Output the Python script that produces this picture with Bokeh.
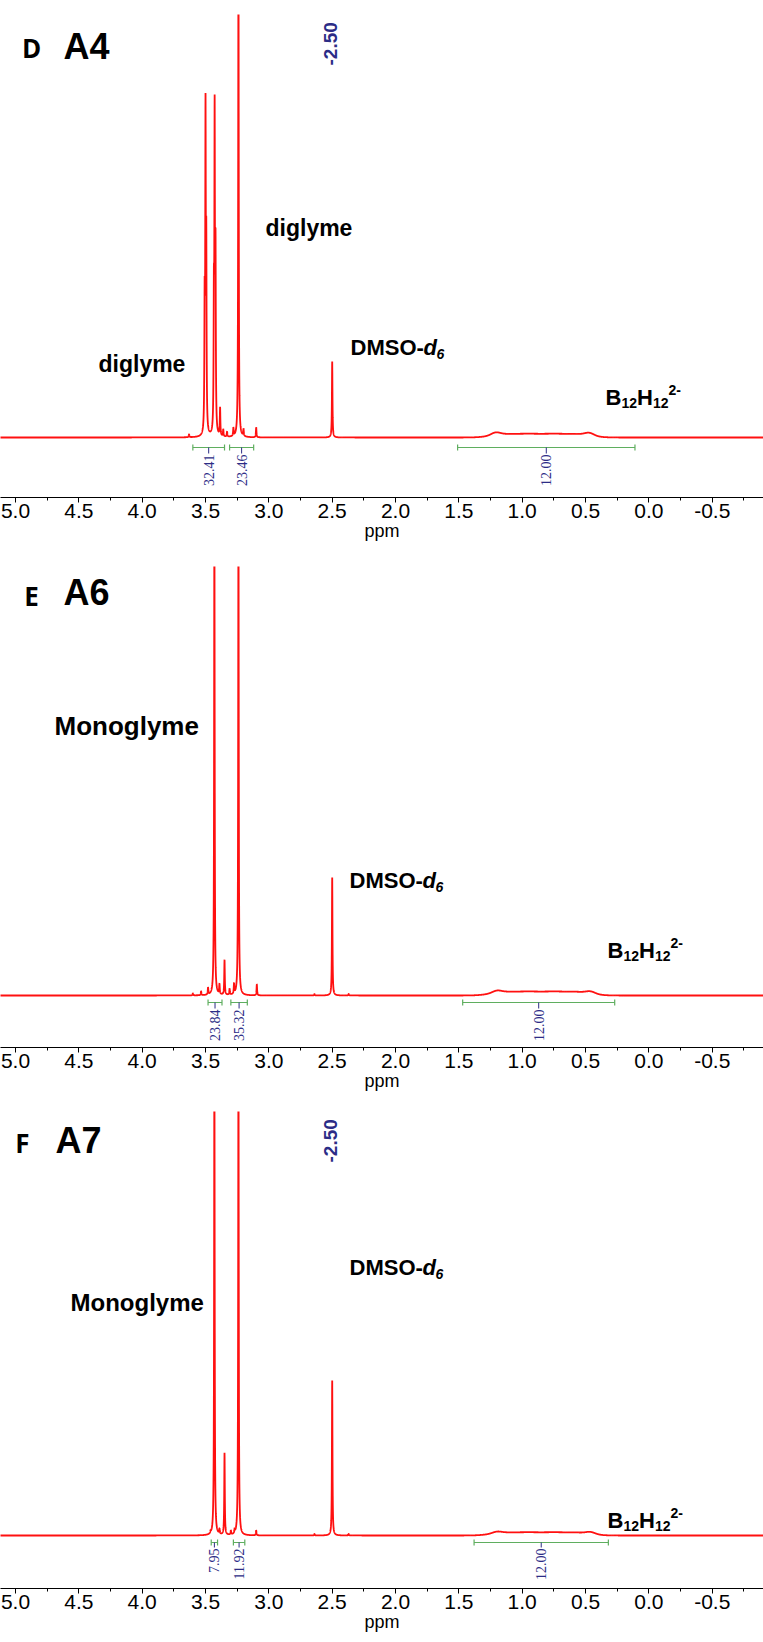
import numpy as np
from bokeh.plotting import figure
from bokeh.models import Range1d, FixedTicker, Label, ColumnDataSource, PrintfTickFormatter
from bokeh.layouts import column
from bokeh.embed import file_html
from bokeh.resources import INLINE
from bokeh.core.properties import value

# ---------------- data ----------------
tick_ppm = [5.0, 4.5, 4.0, 3.5, 3.0, 2.5, 2.0, 1.5, 1.0, 0.5, 0.0, -0.5]
minor_ppm = [4.75, 4.25, 3.75, 3.25, 2.75, 2.25, 1.75, 1.25, 0.75, 0.25, -0.25, -0.75]

# Panel D (A4, diglyme)
d_sharp_ppm = [3.630, 3.507, 3.500, 3.494, 3.434, 3.428, 3.421, 3.385, 3.360, 3.330, 3.280, 3.240, 3.200, 3.100, 2.500]
d_sharp_h = [3, 120, 305, 170, 120, 305, 170, 28, 7, 5, 8, 500, 7, 10, 76]
d_broad_ppm = [1.21, 1.15, 0.95, 0.75, 0.55, 0.47]
d_broad_h = [2.5, 3.0, 3.0, 3.0, 3.0, 2.5]
d_broad_w = [0.035, 0.10, 0.10, 0.10, 0.10, 0.035]
d_int_start = [3.60, 3.31, 1.51]
d_int_end = [3.35, 3.12, 0.11]
d_int_text = ["32.41", "23.46", "12.00"]

# Panel E (A6, monoglyme)
e_sharp_ppm = [3.600, 3.535, 3.480, 3.430, 3.390, 3.350, 3.310, 3.275, 3.240, 3.095, 2.640, 2.500, 2.370]
e_sharp_h = [2, 4, 7, 500, 10, 35, 6, 10, 500, 11, 1.5, 118, 1.5]
e_broad_ppm = [1.20, 1.15, 0.95, 0.75, 0.55, 0.46]
e_broad_h = [2.0, 3.2, 3.2, 3.2, 3.2, 2.0]
e_broad_w = [0.035, 0.10, 0.10, 0.10, 0.10, 0.035]
e_int_start = [3.48, 3.30, 1.47]
e_int_end = [3.37, 3.17, 0.27]
e_int_text = ["23.84", "35.32", "12.00"]

# Panel F (A7, monoglyme)
f_sharp_ppm = [3.460, 3.430, 3.390, 3.350, 3.300, 3.270, 3.240, 3.100, 2.640, 2.500, 2.370]
f_sharp_h = [2, 500, 5, 82, 4, 4, 500, 5, 1.5, 155, 1.5]
f_broad_ppm = [1.20, 1.15, 0.95, 0.75, 0.55, 0.46]
f_broad_h = [1.5, 2.6, 2.6, 2.6, 2.6, 1.8]
f_broad_w = [0.035, 0.10, 0.10, 0.10, 0.10, 0.035]
f_int_start = [3.455, 3.28, 1.38]
f_int_end = [3.405, 3.19, 0.32]
f_int_text = ["7.95", "11.92", "12.00"]

# ---------------- layout constants ----------------
W = 763
PX_PER_PPM = 126.68
X_LEFT = 5.0 + 15 / PX_PER_PPM
X_RIGHT = X_LEFT - W / PX_PER_PPM
LINE_HW = 0.0025

RED = "#ff1010"
GREEN = "#5fae5f"
NAVY = "#2c2c86"
SANS = "Liberation Sans"


def xd(px):
    return X_LEFT - px / PX_PER_PPM


def spectrum(sharp_ppm, sharp_h, broad_ppm, broad_h, broad_w):
    grid = np.union1d(np.arange(X_RIGHT - 0.05, X_LEFT + 0.05, 0.0008), np.array(sharp_ppm))
    y = np.zeros_like(grid)
    for c, h in zip(sharp_ppm, sharp_h):
        y += h / (1.0 + ((grid - c) / LINE_HW) ** 2)
    for c, h, w in zip(broad_ppm, broad_h, broad_w):
        y += h * np.exp(-0.5 * ((grid - c) / w) ** 2)
    return grid, y


def label(p, x, y, text, size, style="bold", font=SANS, align="left", color="black", angle=0.0, baseline="middle"):
    p.add_layout(Label(x=x, y=y, text=text, text_font=font, text_font_size=f"{size}px",
                       text_font_style=style, text_align=align, text_baseline=baseline,
                       text_color=color, angle=angle))


def yd(cfg, py):
    return cfg["B"] - py


def make_panel(cfg, sharp_ppm, sharp_h, broad_ppm, broad_h, broad_w, i_start, i_end, i_text):
    H, T, A, B = cfg["H"], cfg["T"], cfg["A"], cfg["B"]
    p = figure(width=W, height=H, x_range=Range1d(X_LEFT, X_RIGHT),
               y_range=Range1d(-(A - B), B - T), output_backend="svg",
               toolbar_location=None, y_axis_location=None,
               min_border_left=0, min_border_right=0, min_border_top=T,
               min_border_bottom=H - A, outline_line_color=None,
               background_fill_color="white", border_fill_color="white")
    p.xgrid.visible = False
    p.ygrid.visible = False

    ax = p.xaxis[0]
    ax.ticker = FixedTicker(ticks=tick_ppm, minor_ticks=minor_ppm)
    ax.formatter = PrintfTickFormatter(format="%.1f")
    ax.major_label_text_font = SANS
    ax.major_label_text_font_size = "21px"
    ax.major_label_text_color = "black"
    ax.major_tick_out = 5
    ax.major_tick_in = 0
    ax.minor_tick_out = 3
    ax.minor_tick_in = 0
    ax.major_label_standoff = 1
    ax.axis_label = "ppm"
    ax.axis_label_text_font = SANS
    ax.axis_label_text_font_size = "18px"
    ax.axis_label_text_font_style = "normal"
    ax.axis_label_text_color = "black"
    ax.axis_label_standoff = 0
    ax.axis_line_color = "black"
    ax.major_tick_line_color = "black"
    ax.minor_tick_line_color = "black"

    gx, gy = spectrum(sharp_ppm, sharp_h, broad_ppm, broad_h, broad_w)
    p.line(gx, gy, line_color=RED, line_width=1.8)

    # integrals
    bar_y = -cfg["bar"]
    lab_y = -cfg["lab"]
    cx = [(s + e) / 2 for s, e in zip(i_start, i_end)]
    src = ColumnDataSource(dict(s=i_start, e=i_end, c=cx, t=i_text))
    p.segment(x0="s", y0=bar_y, x1="e", y1=bar_y, source=src, line_color=GREEN, line_width=1.2)
    p.segment(x0="s", y0=bar_y - 3, x1="s", y1=bar_y + 3, source=src, line_color=GREEN, line_width=1.2)
    p.segment(x0="e", y0=bar_y - 3, x1="e", y1=bar_y + 3, source=src, line_color=GREEN, line_width=1.2)
    p.segment(x0="c", y0=bar_y, x1="c", y1=lab_y + 1, source=src, line_color=NAVY, line_width=1)
    p.text(x="c", y=lab_y, text="t", source=src, angle=np.pi / 2, text_align="right",
           text_baseline="middle", text_font=value("Liberation Serif"),
           text_font_size="14px", text_color=NAVY)
    return p


def dmso(p, cfg, xpx, ypx):
    label(p, xd(xpx), yd(cfg, ypx), "DMSO-", 22)
    label(p, xd(xpx + 73), yd(cfg, ypx), "d", 22, style="bold italic")
    label(p, xd(xpx + 86), yd(cfg, ypx + 6), "6", 14, style="bold italic")


def b12(p, cfg, xpx, ypx):
    label(p, xd(xpx), yd(cfg, ypx), "B", 22)
    label(p, xd(xpx + 16), yd(cfg, ypx + 5), "12", 14)
    label(p, xd(xpx + 31.5), yd(cfg, ypx), "H", 22)
    label(p, xd(xpx + 47.5), yd(cfg, ypx + 5), "12", 14)
    label(p, xd(xpx + 63), yd(cfg, ypx - 8), "2-", 14)


cfgD = dict(H=551, T=14, A=497, B=437, bar=10, lab=17)
cfgE = dict(H=550, T=15, A=496, B=444, bar=7, lab=14)
cfgF = dict(H=541, T=10, A=487, B=434, bar=7, lab=13)

pD = make_panel(cfgD, d_sharp_ppm, d_sharp_h, d_broad_ppm, d_broad_h, d_broad_w, d_int_start, d_int_end, d_int_text)
label(pD, xd(31), yd(cfgD, 47), "D", 26, font="Open Sans", align="center")
label(pD, xd(63), yd(cfgD, 46), "A4", 36)
label(pD, 2.51, yd(cfgD, 65), "-2.50", 19, color=NAVY, angle=np.pi / 2)
label(pD, xd(98), yd(cfgD, 363), "diglyme", 23)
label(pD, xd(265), yd(cfgD, 227), "diglyme", 23)
dmso(pD, cfgD, 350, 347)
b12(pD, cfgD, 605, 397)

pE = make_panel(cfgE, e_sharp_ppm, e_sharp_h, e_broad_ppm, e_broad_h, e_broad_w, e_int_start, e_int_end, e_int_text)
label(pE, xd(31), yd(cfgE, 44), "E", 26, font="Open Sans", align="center")
label(pE, xd(63), yd(cfgE, 41), "A6", 36)
label(pE, xd(54), yd(cfgE, 174), "Monoglyme", 26)
dmso(pE, cfgE, 349, 329)
b12(pE, cfgE, 607, 399)

pF = make_panel(cfgF, f_sharp_ppm, f_sharp_h, f_broad_ppm, f_broad_h, f_broad_w, f_int_start, f_int_end, f_int_text)
label(pF, xd(22), yd(cfgF, 41), "F", 26, font="Open Sans", align="center")
label(pF, xd(55), yd(cfgF, 39), "A7", 36)
label(pF, 2.51, yd(cfgF, 61), "-2.50", 19, color=NAVY, angle=np.pi / 2)
label(pF, xd(70), yd(cfgF, 201), "Monoglyme", 24)
dmso(pF, cfgF, 349, 166)
b12(pF, cfgF, 607, 419)

layout = column(pD, pE, pF, spacing=0)
open("out.html", "w").write(file_html(layout, INLINE))
